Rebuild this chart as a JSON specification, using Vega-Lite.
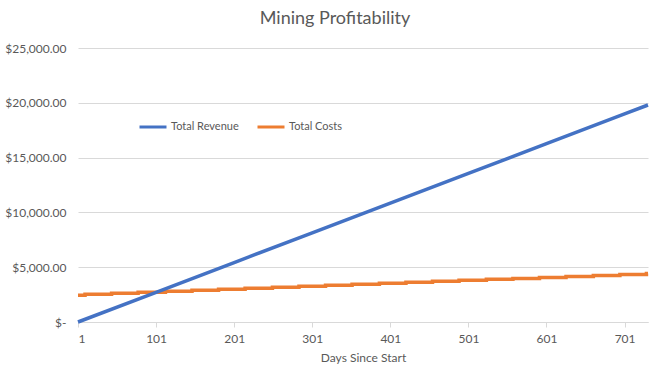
{
  "$schema": "https://vega.github.io/schema/vega-lite/v6.json",
  "width": 570,
  "height": 274,
  "autosize": "none",
  "padding": {"left": 78, "top": 48, "right": 22, "bottom": 61},
  "background": "white",
  "config": {
    "font": "Lato",
    "view": {"stroke": null}
  },
  "title": {
    "text": "Mining Profitability",
    "fontSize": 18,
    "font": "Lato",
    "fontWeight": "normal",
    "color": "#595959",
    "anchor": "middle",
    "dx": -28,
    "offset": 14
  },
  "datasets": {
    "rev": [
      {"day": 1, "value": 0, "series": "Total Revenue"},
      {"day": 101, "value": 2712, "series": "Total Revenue"},
      {"day": 201, "value": 5425, "series": "Total Revenue"},
      {"day": 301, "value": 8137, "series": "Total Revenue"},
      {"day": 401, "value": 10850, "series": "Total Revenue"},
      {"day": 501, "value": 13562, "series": "Total Revenue"},
      {"day": 601, "value": 16274, "series": "Total Revenue"},
      {"day": 701, "value": 18987, "series": "Total Revenue"},
      {"day": 731, "value": 19800, "series": "Total Revenue"}
    ],
    "cost": [
      {"day": 1, "value": 2450, "series": "Total Costs"},
      {"day": 10, "value": 2540, "series": "Total Costs"},
      {"day": 44, "value": 2630, "series": "Total Costs"},
      {"day": 78, "value": 2720, "series": "Total Costs"},
      {"day": 113, "value": 2810, "series": "Total Costs"},
      {"day": 147, "value": 2900, "series": "Total Costs"},
      {"day": 181, "value": 2990, "series": "Total Costs"},
      {"day": 215, "value": 3080, "series": "Total Costs"},
      {"day": 250, "value": 3170, "series": "Total Costs"},
      {"day": 284, "value": 3260, "series": "Total Costs"},
      {"day": 318, "value": 3350, "series": "Total Costs"},
      {"day": 352, "value": 3440, "series": "Total Costs"},
      {"day": 387, "value": 3530, "series": "Total Costs"},
      {"day": 421, "value": 3620, "series": "Total Costs"},
      {"day": 455, "value": 3710, "series": "Total Costs"},
      {"day": 489, "value": 3800, "series": "Total Costs"},
      {"day": 524, "value": 3890, "series": "Total Costs"},
      {"day": 558, "value": 3980, "series": "Total Costs"},
      {"day": 592, "value": 4070, "series": "Total Costs"},
      {"day": 626, "value": 4160, "series": "Total Costs"},
      {"day": 661, "value": 4250, "series": "Total Costs"},
      {"day": 695, "value": 4340, "series": "Total Costs"},
      {"day": 729, "value": 4430, "series": "Total Costs"},
      {"day": 731, "value": 4430, "series": "Total Costs"}
    ]
  },
  "encoding": {
    "x": {
      "field": "day",
      "type": "quantitative",
      "title": "Days Since Start",
      "scale": {"domain": [1, 731], "nice": false, "zero": false},
      "axis": {
        "values": [1, 101, 201, 301, 401, 501, 601, 701],
        "grid": false,
        "domainColor": "#d9d9d9",
        "domainWidth": 1,
        "tickColor": "#d9d9d9",
        "tickSize": 5,
        "labelColor": "#595959",
        "labelFontSize": 12,
        "labelFont": "Lato",
        "labelPadding": 6,
        "titleColor": "#595959",
        "titleFontSize": 12,
        "titleFont": "Lato",
        "titleFontWeight": "normal",
        "titlePadding": 8
      }
    },
    "y": {
      "field": "value",
      "type": "quantitative",
      "title": null,
      "scale": {"domain": [0, 25000], "nice": false},
      "axis": {
        "values": [0, 5000, 10000, 15000, 20000, 25000],
        "labelExpr": "datum.value == 0 ? '$-' : '$' + format(datum.value, ',.2f')",
        "domain": false,
        "ticks": false,
        "gridColor": "#d9d9d9",
        "gridWidth": 1,
        "labelColor": "#595959",
        "labelFontSize": 12,
        "labelFont": "Lato",
        "labelPadding": 12
      }
    },
    "color": {
      "field": "series",
      "type": "nominal",
      "scale": {"domain": ["Total Revenue", "Total Costs"], "range": ["#4472C4", "#ED7D31"]},
      "legend": {
        "title": null,
        "orient": "none",
        "direction": "horizontal",
        "legendX": 60,
        "legendY": 64,
        "symbolType": "stroke",
        "symbolSize": 729,
        "symbolStrokeWidth": 3,
        "labelFontSize": 11,
        "labelFont": "Lato",
        "labelColor": "#595959",
        "labelOffset": 3,
        "columnPadding": 12
      }
    }
  },
  "layer": [
    {
      "data": {"name": "cost"},
      "mark": {"type": "line", "interpolate": "step-after", "strokeWidth": 3.5}
    },
    {
      "data": {"name": "rev"},
      "mark": {"type": "line", "strokeWidth": 3.5}
    }
  ]
}
